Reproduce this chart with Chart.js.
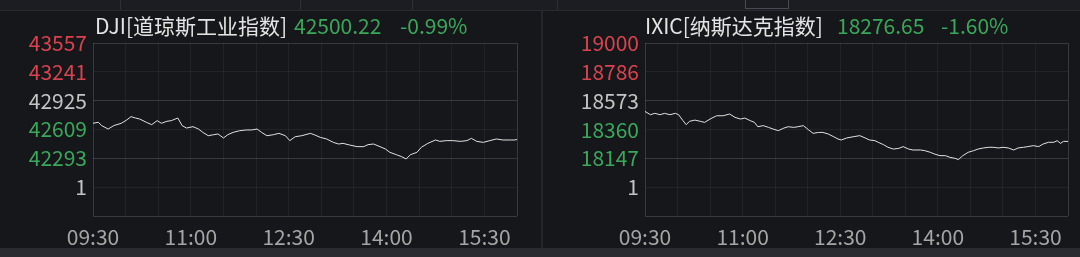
<!DOCTYPE html>
<html><head><meta charset="utf-8">
<script src="https://cdn.jsdelivr.net/npm/chart.js@4"></script>
<style>
html,body{margin:0;padding:0;background:#16171b;}
#wrap{position:relative;width:1080px;height:257px;overflow:hidden;background:#16171b;font-family:"Noto Sans CJK SC","Noto Sans",sans-serif;}
.topbar{position:absolute;left:0;top:0;width:1080px;height:10px;background:#1c1d22;border-bottom:1px solid #2a2b30;}
.tsep{position:absolute;top:0;width:1px;height:10px;background:#2e2f35;}
.tab{position:absolute;left:745px;top:-1px;width:42px;height:9px;border:1px solid #4a4b52;border-top:none;}
.bottombar{position:absolute;left:0;top:248px;width:1080px;height:9px;background:#2a2b31;}
.divider{position:absolute;left:541px;top:11px;width:2px;height:237px;background:#25262b;}
.cv{position:absolute;top:0;}
.t{position:absolute;top:13px;font-size:21px;line-height:24px;white-space:nowrap;}
.w{color:#e4e4e4;}
.g{color:#3aa85a;}
</style></head>
<body>
<div id="wrap">
  <div class="topbar"></div>
  <div class="tsep" style="left:120px"></div>
  <div class="tsep" style="left:300px"></div>
  <div class="tsep" style="left:412px"></div>
  <div class="tsep" style="left:557px"></div>
  <div class="tab"></div>
  <div class="divider"></div>
  <div class="bottombar"></div>
  <canvas id="c1" class="cv" width="542" height="248" style="left:0"></canvas>
  <canvas id="c2" class="cv" width="538" height="248" style="left:542px"></canvas>
  <div class="t w" style="left:95px">DJI[道琼斯工业指数]</div>
  <div class="t g" style="left:294px">42500.22</div>
  <div class="t g" style="left:400px">-0.99%</div>
  <div class="t w" style="left:645px">IXIC[纳斯达克指数]</div>
  <div class="t g" style="left:837px">18276.65</div>
  <div class="t g" style="left:941px">-1.60%</div>
</div>
<script>
// ---- time axis (minutes after 09:30 open) ----
const xTickMinutes = [0, 90, 180, 270, 360];
const xTickLabels = ["09:30", "11:00", "12:30", "14:00", "15:30"];

// ---- DJI ----
const djiMinutes = [0,5,8,14,19,26,31,35,39,43,49,54,59,63,68,72,78,82,86,92,97,101,106,111,115,120,124,129,135,141,146,151,155,160,166,171,177,181,186,192,200,204,209,215,221,226,230,236,243,249,253,258,264,269,273,279,284,288,292,298,302,308,315,319,325,331,338,344,348,353,359,365,371,377,384,388,390];
const djiValues = [42677,42688,42651,42614,42651,42677,42713,42750,42735,42724,42688,42662,42706,42677,42699,42706,42735,42651,42625,42640,42614,42578,42541,42552,42560,42516,42552,42578,42596,42604,42604,42614,42578,42541,42552,42567,42541,42487,42530,42541,42567,42549,42523,42505,42468,42450,42457,42439,42421,42421,42443,42450,42421,42395,42359,42333,42311,42286,42333,42359,42414,42457,42494,42479,42487,42487,42479,42487,42512,42479,42468,42487,42505,42494,42494,42494,42500];
const djiTickValues = [43557, 43241, 42925, 42609, 42293, 41977, 41661];
const djiTickLabels = ["43557", "43241", "42925", "42609", "42293", "1", ""];

// ---- IXIC ----
const ixicMinutes = [0,5,9,14,18,23,28,31,35,38,41,46,51,55,60,66,72,78,83,88,92,97,101,104,109,114,118,123,128,132,137,141,146,151,155,160,164,169,174,178,181,186,192,198,203,207,212,215,220,224,229,234,238,243,247,254,258,263,267,272,277,281,286,289,293,298,303,307,312,317,321,326,330,335,340,344,349,353,358,363,367,372,377,380,383,386,390];
const ixicValues = [18494,18470,18480,18470,18480,18470,18480,18470,18426,18396,18421,18430,18421,18413,18438,18462,18462,18475,18450,18438,18445,18426,18413,18381,18389,18376,18364,18352,18371,18381,18376,18381,18389,18357,18332,18339,18339,18327,18307,18290,18283,18298,18307,18315,18298,18283,18278,18266,18248,18229,18216,18221,18234,18216,18209,18209,18204,18192,18179,18167,18167,18155,18147,18138,18167,18192,18204,18216,18224,18229,18229,18224,18229,18224,18209,18224,18229,18234,18241,18234,18253,18266,18266,18278,18258,18273,18272];
const ixicTickValues = [19000, 18786, 18573, 18360, 18147, 17934, 17721];
const ixicTickLabels = ["19000", "18786", "18573", "18360", "18147", "1", ""];

const RED = '#d9434f', GREEN = '#3aa85a', GRAY = '#c4c4c4';
const tickColorByIndex = [RED, RED, GRAY, GREEN, GREEN, GRAY, GRAY];
const FONT = '"Noto Sans CJK SC", "Noto Sans", sans-serif';

function makeChart(id, minutes, values, tickValues, tickLabels, yWidth, padRight) {
  const pts = minutes.map((m, i) => ({ x: m, y: values[i] }));
  const yMin = Math.min(...tickValues), yMax = Math.max(...tickValues);
  return new Chart(document.getElementById(id), {
    type: 'line',
    data: { datasets: [{ data: pts, borderColor: '#e2e2e2', borderWidth: 1, pointRadius: 0, tension: 0, fill: false }] },
    options: {
      responsive: false, animation: false, devicePixelRatio: 1,
      layout: { padding: { top: 43, right: padRight, left: 0, bottom: 0 } },
      plugins: { legend: { display: false }, tooltip: { enabled: false } },
      scales: {
        x: {
          type: 'linear', min: 0, max: 390,
          afterBuildTicks: (s) => { const t = []; for (let m = 0; m <= 390; m += 30) t.push({ value: m }); s.ticks = t; },
          afterFit: (s) => { s.height = 32; },
          border: { display: false },
          grid: {
            drawTicks: false,
            color: (c) => (c.tick && (c.tick.value === 0 || c.tick.value === 390)) ? 'rgba(255,255,255,0.15)' : 'rgba(255,255,255,0.055)',
            lineWidth: 1
          },
          ticks: {
            autoSkip: false, maxRotation: 0, minRotation: 0, padding: 8,
            color: '#a6a6a6', font: { family: FONT, size: 21 },
            callback: (v) => { const i = xTickMinutes.indexOf(v); return i >= 0 ? xTickLabels[i] : ''; }
          }
        },
        y: {
          type: 'linear', min: yMin, max: yMax,
          afterBuildTicks: (s) => { s.ticks = tickValues.slice().sort((a, b) => a - b).map(v => ({ value: v })); },
          afterFit: (s) => { s.width = yWidth; },
          border: { display: false },
          grid: {
            drawTicks: false,
            color: (c) => {
              const i = c.tick ? tickValues.indexOf(c.tick.value) : -1;
              return (i === 0 || i === 6 || i === 2 || i === 4) ? 'rgba(255,255,255,0.15)' : 'rgba(255,255,255,0.055)';
            },
            lineWidth: 1
          },
          ticks: {
            padding: 6, font: { family: FONT, size: 21 },
            color: (c) => tickColorByIndex[tickValues.indexOf(c.tick.value)] || GRAY,
            callback: (v) => { const i = tickValues.indexOf(v); return i >= 0 ? tickLabels[i] : ''; }
          }
        }
      }
    }
  });
}

makeChart('c1', djiMinutes, djiValues, djiTickValues, djiTickLabels, 93, 25);
makeChart('c2', ixicMinutes, ixicValues, ixicTickValues, ixicTickLabels, 103, 12);
</script>
</body></html>
